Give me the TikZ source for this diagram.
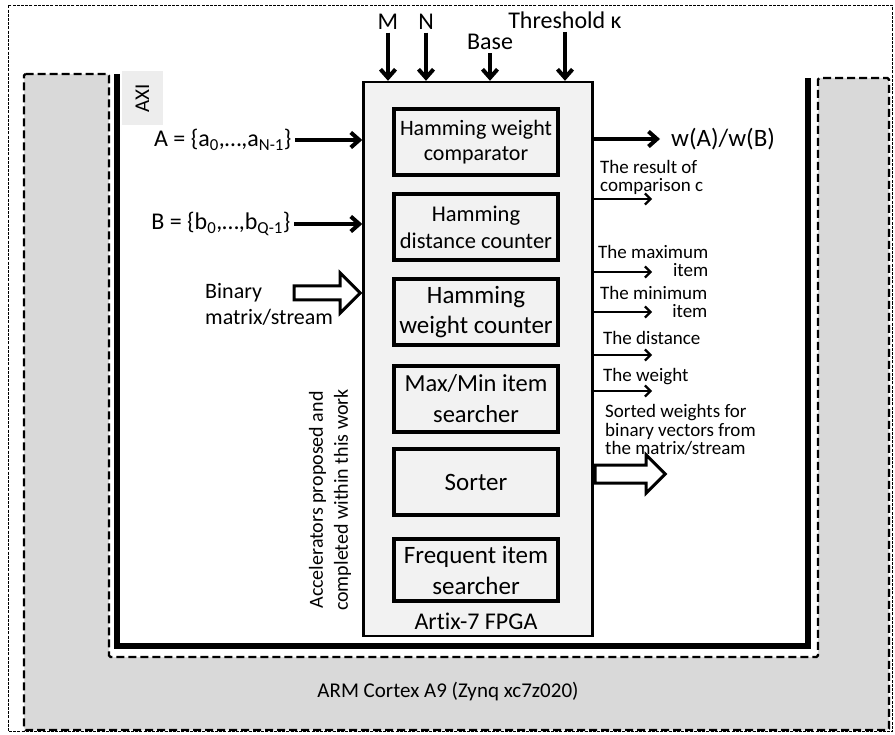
\documentclass[tikz,border=0pt]{standalone}
\usepackage{fontspec}
\setmainfont{Carlito}[Ligatures={NoCommon}]
\usetikzlibrary{arrows.meta,calc,positioning,shapes.arrows}
\definecolor{armgrey}{HTML}{D9D9D9}
\definecolor{fpgagrey}{HTML}{F2F2F2}
\definecolor{axigrey}{HTML}{EDEDED}
\tikzset{line width=.8pt,
  every node/.style={font=\fontsize{21}{25}\selectfont},
  frame/.style={draw,dash pattern=on 3pt off 1.2pt,line width=.7pt},
  armzone/.style={draw,line width=2.4pt,dash pattern=on 8pt off 4pt,rounded corners=1.5pt,
    preaction={fill=armgrey},preaction={draw=white,solid}},
  axibus/.style={draw,line width=5.5pt},
  axibox/.style={fill=axigrey,rotate=90,minimum width=54,minimum height=41,inner sep=0},
  fpgabox/.style={draw,fill=fpgagrey,line width=2.4pt,minimum width=229,minimum height=554,inner sep=0},
  module/.style={draw,fill=fpgagrey,line width=3.4pt,minimum width=164,minimum height=66,
    align=center,inner sep=0,font=\fontsize{24}{27}\selectfont},
  biglabel/.style={font=\fontsize{24}{28}\selectfont},
  bigin/.style={-{Straight Barb[length=8.5pt,width=15pt]},line width=4pt},
  thinout/.style={-{Straight Barb[length=5.5pt,width=11pt]},line width=2.2pt},
  hollow/.style={single arrow,draw,fill=white,line width=3pt,inner sep=0},
  outlabel/.style={anchor=base west,align=left,inner sep=0,
    font={\fontsize{19}{18}\selectfont\lineskiplimit=-50pt\relax}}}
\begin{document}
\begin{tikzpicture}[x=1pt,y=-1pt]
\useasboundingbox (0,0) rectangle (895,735);
% frame and processing system
\draw[frame] (8.5,5.5) rectangle (892.5,731.5);
\draw[armzone] (24,74) -- (109,74) -- (109,657) -- (818,657) -- (818,78) -- (889,78) -- (889,730) -- (24,730) -- cycle;
\node (arm) at (448,692) {ARM Cortex A9 (Zynq xc7z020)};
% AXI interconnect
\draw[axibus] (117,74) -- (117,646) -- (808,646) -- (808,78);
\node[axibox] (axi) at (142.5,98) {AXI};
% FPGA and accelerators
\node[fpgabox] (fpga) at (478,359) {};
\node[biglabel] (artix) at (476,621) {Artix-7 FPGA};
\node[module,font=\fontsize{22}{25}\selectfont] (cmp) at (476,142) {Hamming weight\\comparator};
\node[module,font=\fontsize{22.5}{27}\selectfont] (dist) at (476,227) {Hamming\\distance counter};
\node[module,font=\fontsize{25}{30}\selectfont] (wcnt) at (476,312) {Hamming\\weight counter};
\node[module,font=\fontsize{24.5}{31}\selectfont] (maxmin) at (476,399) {Max/Min item\\searcher};
\node[module,font=\fontsize{25}{30}\selectfont] (sorter) at (476,482) {Sorter};
\node[module,minimum height=62,font=\fontsize{25}{31}\selectfont] (freq) at (476,570) {Frequent item\\searcher};
\node[rotate=90,align=center,font=\fontsize{20}{25}\selectfont] (accel) at (330,500) {Accelerators proposed and\\completed within this work};
% parameters
\node[biglabel] (lblm) at (388,21.5) {M};
\node[biglabel] (lbln) at (426,21.5) {N};
\node[biglabel] (lblbase) at (490,42) {Base};
\node[biglabel] (lblthr) at (565,20) {Threshold κ};
\foreach \p in {lblm,lbln,lblbase,lblthr}
  \draw[bigin] (\p.south) -- (\p.south |- fpga.north);
% inputs
\node[biglabel,anchor=east] (seta) at (295,140) {A = \{a\textsubscript{0},…,a\textsubscript{N-1}\}};
\node[biglabel,anchor=east] (setb) at (294,224) {B = \{b\textsubscript{0},…,b\textsubscript{Q-1}\}};
\draw[bigin] (seta.east) -- (seta.east -| fpga.west);
\draw[bigin] (setb.east) -- (setb.east -| fpga.west);
\node[anchor=west,align=left,inner sep=0,font=\fontsize{22}{26}\selectfont] (bintext) at (205,304) {Binary\\matrix/stream};
\node[hollow,inner ysep=5.5pt,single arrow head extend=13pt,minimum height=66,anchor=tip] (binarrow) at ($(fpga.west |- bintext)+(0,-11)$) {};
% outputs
\node[anchor=west,inner sep=0,font=\fontsize{25}{29}\selectfont] (wlabel) at (671,139) {w(A)/w(B)};
\draw[bigin,shorten >=11pt] (wlabel.west -| fpga.east) -- (wlabel.west);
\coordinate (cmpout) at (652,199);
\coordinate (maxout) at (652,272);
\coordinate (minout) at (652,312);
\coordinate (distout) at (652,355);
\coordinate (wout) at (652,391);
\foreach \c in {cmpout,maxout,minout,distout,wout}
  \draw[thinout] (\c -| fpga.east) -- (\c);
\node[outlabel] (cmplabel) at (600,192) {The result of\\comparison c};
\node[outlabel,align=right] (maxlabel) at (598,277) {The maximum\\item};
\node[outlabel,align=right] (minlabel) at (600,318) {The minimum\\item};
\node[outlabel] (distlabel) at (603,345) {The distance};
\node[outlabel] (wlbl) at (603,382) {The weight};
\node[outlabel] (sortlabel) at (605,454) {Sorted weights for\\binary vectors from\\the matrix/stream};
\node[hollow,inner ysep=7.5pt,single arrow head extend=10pt,minimum height=70,anchor=tail] (sortarrow) at (fpga.east |- 0,474) {};
\end{tikzpicture}
\end{document}
